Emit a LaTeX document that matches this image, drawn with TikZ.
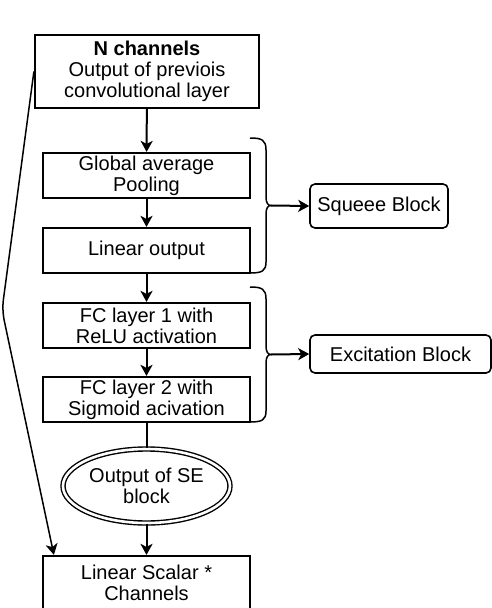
\documentclass[tikz,border=0pt]{standalone}
\usepackage{fontspec}
\setmainfont{Liberation Sans}
\usetikzlibrary{arrows.meta,shapes.geometric}
\begin{document}
\begin{tikzpicture}[x=1pt,y=-1pt,
  txt/.style={font=\fontsize{20}{21}\selectfont},
  box/.style={draw,line width=2.2pt,minimum width=207pt,minimum height=45pt,align=center,inner sep=0pt,txt},
  rbox/.style={draw,line width=1.6pt,rounded corners=5pt,align=center,inner sep=0pt,txt},
  tip/.style={-{Stealth[length=11pt,width=12pt,inset=3pt]}},
  arr/.style={line width=2pt,tip},
  thin/.style={line width=1.5pt},
  brace/.style={line width=1.5pt}
]
\useasboundingbox (0,0) rectangle (492,608);

\node[box,minimum width=224pt,minimum height=73pt] (top) at (147,71.5)
  {\textbf{N channels}\\Output of previois\\convolutional layer};
\node[box] (gap) at (146.5,175.5) {Global average\\Pooling};
\node[box] (lin) at (146.5,250.5) {Linear output};
\node[box] (fc1) at (146.5,325.5) {FC layer 1 with\\ReLU activation};
\node[box] (fc2) at (146.5,399.5) {FC layer 2 with\\Sigmoid acivation};
\node[ellipse,draw,line width=1.4pt,double,double distance=2.6pt,
  minimum width=167pt,minimum height=74pt,inner sep=0pt,align=center,txt] (se) at (146.5,486)
  {Output of SE\\block};
\node[box,minimum height=54pt] (out) at (146.5,583) {Linear Scalar *\\Channels};

\node[rbox,minimum width=138pt,minimum height=44pt] (sq) at (379,206) {Squeee Block};
\node[rbox,minimum width=181pt,minimum height=38pt] (ex) at (400.5,354) {Excitation Block};

% arrows along the main chain
\draw[arr] (top) -- (gap);
\draw[arr] (gap) -- (lin);
\draw[arr] (lin) -- (fc1);
\draw[arr] (fc1) -- (fc2);
\draw[line width=2pt] (fc2) -- (se);
\draw[arr] (se) -- (out);

% braces
\draw[brace] (250,138) .. controls (262,138) and (266,140) .. (266,150) -- (266,197)
  .. controls (266,203) and (268,205.5) .. (271,205.5)
  .. controls (268,205.5) and (266,208) .. (266,214) -- (266,262)
  .. controls (266,271) and (262,273) .. (250,273);
\coordinate (b1) at (271,205.5);
\draw[brace] (250,287) .. controls (262,287) and (266,289) .. (266,299) -- (266,346)
  .. controls (266,352) and (268,354.5) .. (271,354.5)
  .. controls (268,354.5) and (266,357) .. (266,363) -- (266,411)
  .. controls (266,420) and (262,422) .. (250,422);
\coordinate (b2) at (271,354.5);
\draw[arr] (b1) -- (sq.west);
\draw[arr] (b2) -- (ex.west);

% skip connection
\draw[thin,rounded corners=10pt,tip]
  (top.west) -- (2,310) -- ([xshift=12pt]out.north west);
\end{tikzpicture}
\end{document}
